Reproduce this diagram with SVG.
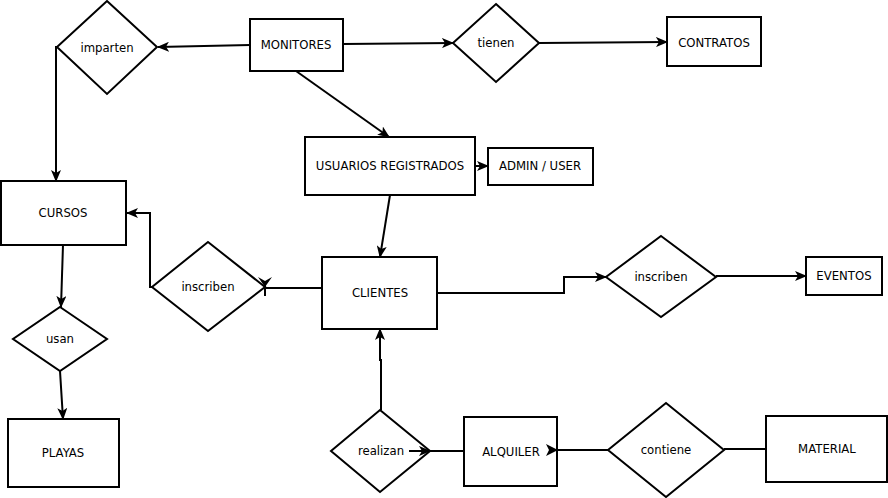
<svg xmlns="http://www.w3.org/2000/svg" width="888" height="498" viewBox="0 0 888 498">
<defs>
<style>
.box{fill:#fff;stroke:#000;stroke-width:2}
.t{font-family:"DejaVu Sans",sans-serif;font-size:11.7px;fill:#000;text-anchor:middle;dominant-baseline:central}
.c{fill:none;stroke:#000;stroke-width:2}
</style>
<marker id="arr" viewBox="0 0 12 10" refX="11" refY="5" markerWidth="12" markerHeight="10" markerUnits="userSpaceOnUse" orient="auto">
<path d="M0,0 L12,5 L0,10 L3,5 Z" fill="#000"/>
</marker>
</defs>
<rect width="888" height="498" fill="#fff"/>
<g id="imparten"><polygon class="box" points="107,1 157,47 107,94 57,47"/><text class="t" x="107" y="48">imparten</text></g>
<g id="monitores"><rect class="box" x="250" y="19" width="93" height="52"/><text class="t" x="296" y="45">MONITORES</text></g>
<g id="tienen"><polygon class="box" points="496,4 539,43 496,82 453,43"/><text class="t" x="496" y="43">tienen</text></g>
<g id="contratos"><rect class="box" x="667" y="17" width="94" height="49"/><text class="t" x="714" y="43">CONTRATOS</text></g>
<g id="usuarios"><rect class="box" x="305" y="137" width="170" height="58"/><text class="t" x="390" y="166">USUARIOS REGISTRADOS</text></g>
<g id="admin"><rect class="box" x="488" y="148" width="105" height="37"/><text class="t" x="540" y="166">ADMIN / USER</text></g>
<g id="cursos"><rect class="box" x="1" y="181" width="125" height="64"/><text class="t" x="63" y="213">CURSOS</text></g>
<g id="inscriben1"><polygon class="box" points="208,242 265,287 208,331 152,287"/><text class="t" x="208" y="287">inscriben</text></g>
<g id="clientes"><rect class="box" x="322" y="257" width="115" height="72"/><text class="t" x="380" y="293">CLIENTES</text></g>
<g id="inscriben2"><polygon class="box" points="661,236 716,277 661,317 606,277"/><text class="t" x="661" y="277">inscriben</text></g>
<g id="eventos"><rect class="box" x="806" y="257" width="76" height="38"/><text class="t" x="844" y="276">EVENTOS</text></g>
<g id="usan"><polygon class="box" points="60,307 107,339 60,371 13,339"/><text class="t" x="60" y="339">usan</text></g>
<g id="playas"><rect class="box" x="8" y="419" width="111" height="68"/><text class="t" x="63" y="453">PLAYAS</text></g>
<g id="realizan"><polygon class="box" points="380,410 430,451 380,492 331,451"/><text class="t" x="381" y="451">realizan</text></g>
<g id="alquiler"><rect class="box" x="464" y="417" width="93" height="69"/><text class="t" x="511" y="452">ALQUILER</text></g>
<g id="contiene"><polygon class="box" points="666,403 724,450 666,497 608,450"/><text class="t" x="666" y="450">contiene</text></g>
<g id="material"><rect class="box" x="766" y="416" width="121" height="66"/><text class="t" x="827" y="449">MATERIAL</text></g>
<g id="connectors">
<path class="c" d="M250,45 L158,47" marker-end="url(#arr)"/>
<path class="c" d="M57,47 L56,47 L56,181" marker-end="url(#arr)"/>
<path class="c" d="M343,44 L453,43" marker-end="url(#arr)"/>
<path class="c" d="M539,43 L667,42" marker-end="url(#arr)"/>
<path class="c" d="M296,71 L389,137" marker-end="url(#arr)"/>
<path class="c" d="M475,166 L488,166" marker-end="url(#arr)"/>
<path class="c" d="M390,195 L380,257" marker-end="url(#arr)"/>
<path class="c" d="M322,288 L265,288"/>
<path d="M258,277 L265,287 L272,277 L265,281 Z" fill="#000"/>
<path class="c" d="M265,283 L265,296"/>
<path class="c" d="M152,287 L150,287 L150,213 L127,213" marker-end="url(#arr)"/>
<path class="c" d="M437,293 L564,293 L564,277 L606,277" marker-end="url(#arr)"/>
<path class="c" d="M716,276 L806,276" marker-end="url(#arr)"/>
<path class="c" d="M63,245 L61,307" marker-end="url(#arr)"/>
<path class="c" d="M60,371 L63,419" marker-end="url(#arr)"/>
<path class="c" d="M381,410 L381,360 L380,360 L380,329" marker-end="url(#arr)"/>
<path class="c" d="M409,451 L430,451" marker-end="url(#arr)"/>
<path class="c" d="M430,451 L464,451"/>
<path class="c" d="M608,450 L557,450"/>
<path d="M546,444 L558,450 L546,456 L549,450 Z" fill="#000"/>
<path class="c" d="M724,449 L766,449"/>
</g>
</svg>
